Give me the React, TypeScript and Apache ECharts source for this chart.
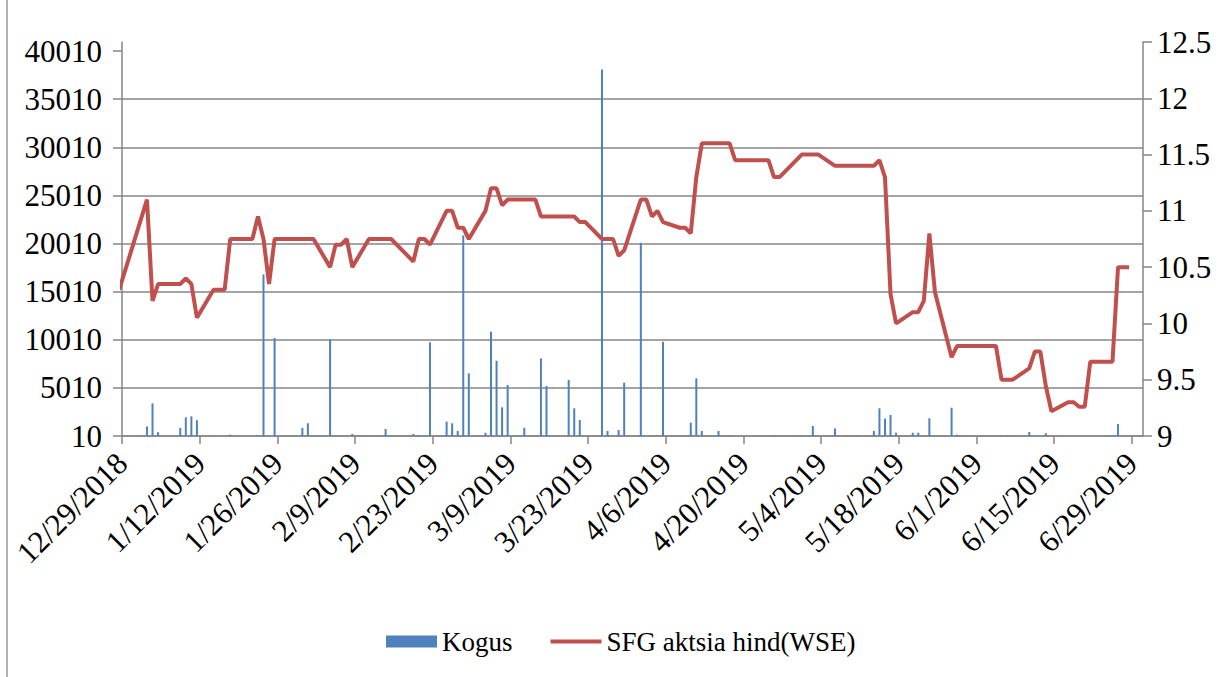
import React, { useEffect, useRef } from "react";
import * as echarts from "echarts";

const START = Date.UTC(2018, 11, 29);
const AXIS_DAYS = 184;

const priceDates = [
  "2018-12-28", "2019-01-02", "2019-01-03", "2019-01-04", "2019-01-07", "2019-01-08", "2019-01-09", "2019-01-10", "2019-01-11",
  "2019-01-14", "2019-01-15", "2019-01-16", "2019-01-17", "2019-01-18", "2019-01-21", "2019-01-22", "2019-01-23", "2019-01-24",
  "2019-01-25", "2019-01-28", "2019-01-29", "2019-01-30", "2019-01-31", "2019-02-01", "2019-02-04", "2019-02-05", "2019-02-06",
  "2019-02-07", "2019-02-08", "2019-02-11", "2019-02-12", "2019-02-13", "2019-02-14", "2019-02-15", "2019-02-18", "2019-02-19",
  "2019-02-20", "2019-02-21", "2019-02-22", "2019-02-25", "2019-02-26", "2019-02-27", "2019-02-28", "2019-03-01", "2019-03-04",
  "2019-03-05", "2019-03-06", "2019-03-07", "2019-03-08", "2019-03-11", "2019-03-12", "2019-03-13", "2019-03-14", "2019-03-15",
  "2019-03-18", "2019-03-19", "2019-03-20", "2019-03-21", "2019-03-22", "2019-03-25", "2019-03-26", "2019-03-27", "2019-03-28",
  "2019-03-29", "2019-04-01", "2019-04-02", "2019-04-03", "2019-04-04", "2019-04-05", "2019-04-08", "2019-04-09", "2019-04-10",
  "2019-04-11", "2019-04-12", "2019-04-15", "2019-04-16", "2019-04-17", "2019-04-18", "2019-04-23", "2019-04-24", "2019-04-25",
  "2019-04-26", "2019-04-30", "2019-05-02", "2019-05-03", "2019-05-06", "2019-05-07", "2019-05-08", "2019-05-09", "2019-05-10",
  "2019-05-13", "2019-05-14", "2019-05-15", "2019-05-16", "2019-05-17", "2019-05-20", "2019-05-21", "2019-05-22", "2019-05-23",
  "2019-05-24", "2019-05-27", "2019-05-28", "2019-05-29", "2019-05-30", "2019-05-31", "2019-06-03", "2019-06-04", "2019-06-05",
  "2019-06-06", "2019-06-07", "2019-06-10", "2019-06-11", "2019-06-12", "2019-06-13", "2019-06-14", "2019-06-17", "2019-06-18",
  "2019-06-19", "2019-06-20", "2019-06-21", "2019-06-24", "2019-06-25", "2019-06-26", "2019-06-27", "2019-06-28",
];
const priceValues = [
  10.3, 11.1, 10.2, 10.35, 10.35, 10.35, 10.4, 10.35, 10.05,
  10.3, 10.3, 10.3, 10.75, 10.75, 10.75, 10.95, 10.75, 10.35,
  10.75, 10.75, 10.75, 10.75, 10.75, 10.75, 10.5, 10.7, 10.7,
  10.75, 10.5, 10.75, 10.75, 10.75, 10.75, 10.75, 10.6, 10.55,
  10.75, 10.75, 10.7, 11.0, 11.0, 10.85, 10.85, 10.75, 11.0,
  11.2, 11.2, 11.05, 11.1, 11.1, 11.1, 11.1, 10.95, 10.95,
  10.95, 10.95, 10.95, 10.9, 10.9, 10.75, 10.75, 10.75, 10.6,
  10.65, 11.1, 11.1, 10.95, 11.0, 10.9, 10.85, 10.85, 10.8,
  11.3, 11.6, 11.6, 11.6, 11.6, 11.45, 11.45, 11.45, 11.3,
  11.3, 11.5, 11.5, 11.5, 11.4, 11.4, 11.4, 11.4, 11.4,
  11.4, 11.45, 11.3, 10.26, 10.0, 10.1, 10.1, 10.2, 10.8,
  10.28, 9.7, 9.8, 9.8, 9.8, 9.8, 9.8, 9.8, 9.5,
  9.5, 9.5, 9.6, 9.75, 9.75, 9.44, 9.22, 9.3, 9.3,
  9.26, 9.26, 9.66, 9.66, 9.66, 10.5, 10.5, 10.5,
];

const volumeDates = [
  "2019-01-02", "2019-01-03", "2019-01-04", "2019-01-08", "2019-01-09", "2019-01-10", "2019-01-11", "2019-01-17", "2019-01-22",
  "2019-01-23", "2019-01-25", "2019-01-30", "2019-01-31", "2019-02-04", "2019-02-08", "2019-02-14", "2019-02-19", "2019-02-20",
  "2019-02-22", "2019-02-25", "2019-02-26", "2019-02-27", "2019-02-28", "2019-03-01", "2019-03-04", "2019-03-05", "2019-03-06",
  "2019-03-07", "2019-03-08", "2019-03-11", "2019-03-14", "2019-03-15", "2019-03-19", "2019-03-20", "2019-03-21", "2019-03-25",
  "2019-03-26", "2019-03-28", "2019-03-29", "2019-04-01", "2019-04-03", "2019-04-04", "2019-04-05", "2019-04-10", "2019-04-11",
  "2019-04-12", "2019-04-15", "2019-04-17", "2019-04-25", "2019-04-30", "2019-05-02", "2019-05-06", "2019-05-08", "2019-05-10",
  "2019-05-13", "2019-05-14", "2019-05-15", "2019-05-16", "2019-05-17", "2019-05-20", "2019-05-21", "2019-05-23", "2019-05-27",
  "2019-05-28", "2019-06-05", "2019-06-06", "2019-06-07", "2019-06-10", "2019-06-13", "2019-06-24", "2019-06-25", "2019-06-26",
];
const volumeValues = [
  1000, 3400, 400, 850, 1950, 2050, 1650, 150, 100,
  16800, 10200, 850, 1330, 10060, 220, 740, 220, 100,
  9750, 1500, 1330, 530, 20850, 6520, 350, 10850, 7830,
  2990, 5310, 870, 8070, 5200, 5830, 2890, 1670, 38100,
  530, 630, 5550, 20090, 50, 30, 9800, 1390, 6000,
  530, 530, 60, 100, 80, 1050, 800, 60, 60,
  530, 2890, 1810, 2190, 350, 350, 350, 1850, 2950,
  150, 50, 60, 50, 430, 290, 60, 80, 1260,
];

const leftTicks = [10, 5010, 10010, 15010, 20010, 25010, 30010, 35010, 40010];

function dayIndex(s: string): number {
  const [y, m, d] = s.split("-").map(Number);
  return Math.round((Date.UTC(y, m - 1, d) - START) / 86400000);
}
function dayLabel(v: number): string {
  const dt = new Date(START + v * 86400000);
  return `${dt.getUTCMonth() + 1}/${dt.getUTCDate()}/${dt.getUTCFullYear()}`;
}

const FONT = "Liberation Serif";
const GRID = "#868686";
const AXIS_FS = 31;

export default function App() {
  const ref = useRef<HTMLDivElement>(null);
  useEffect(() => {
    if (!ref.current) return;
    const chart = echarts.init(ref.current, undefined, { renderer: "svg" });
    const barData = volumeDates.map((d, i) => [dayIndex(d) + 0.5, volumeValues[i]]);
    const lineData = priceDates.map((d, i) => [dayIndex(d) + 0.5, priceValues[i]]);
    chart.setOption({
      animation: false,
      backgroundColor: "#ffffff",
      textStyle: { fontFamily: FONT },
      grid: { left: 122, right: 82, top: 42, bottom: 241 },
      legend: {
        left: 381,
        top: 623,
        itemWidth: 51,
        itemHeight: 12,
        itemGap: 36,
        textStyle: { fontFamily: FONT, fontSize: 27, color: "#000" },
        data: [
          { name: "Kogus", icon: "rect" },
          { name: "SFG aktsia hind(WSE)", itemStyle: { opacity: 0 }, lineStyle: { width: 4 } },
        ],
      },
      xAxis: {
        type: "value",
        min: 0,
        max: AXIS_DAYS,
        interval: 14,
        axisLine: { show: true, lineStyle: { color: GRID, width: 1.5 } },
        axisTick: { show: true, length: 8, lineStyle: { color: GRID, width: 1.5 } },
        splitLine: { show: false },
        axisLabel: {
          rotate: 45,
          margin: 22,
          fontSize: AXIS_FS,
          fontFamily: FONT,
          color: "#000",
          showMaxLabel: false,
          formatter: (v: number) => dayLabel(v),
        },
      },
      yAxis: [
        {
          type: "value",
          min: 10,
          max: 40950,
          interval: 5000,
          position: "left",
          axisLine: { show: true, lineStyle: { color: GRID, width: 1.5 } },
          axisTick: { show: true, length: 9, customValues: leftTicks, lineStyle: { color: GRID, width: 1.5 } },
          splitLine: { show: true, showMaxLine: false, lineStyle: { color: GRID, width: 1.5 } },
          axisLabel: {
            margin: 20,
            fontSize: AXIS_FS,
            fontFamily: FONT,
            color: "#000",
            customValues: leftTicks,
            formatter: (v: number) => String(v),
          },
        },
        {
          type: "value",
          min: 9,
          max: 12.5,
          interval: 0.5,
          position: "right",
          axisLine: { show: true, lineStyle: { color: GRID, width: 1.5 } },
          axisTick: { show: true, length: 9, lineStyle: { color: GRID, width: 1.5 } },
          splitLine: { show: false },
          axisLabel: { margin: 14, fontSize: AXIS_FS, fontFamily: FONT, color: "#000", formatter: (v: number) => String(v) },
        },
      ],
      series: [
        {
          name: "Kogus",
          type: "bar",
          yAxisIndex: 0,
          barWidth: 2,
          itemStyle: { color: "#4F81BD" },
          data: barData,
        },
        {
          name: "SFG aktsia hind(WSE)",
          type: "line",
          yAxisIndex: 1,
          symbol: "none",
          clip: true,
          lineStyle: { color: "#C0504D", width: 4 },
          itemStyle: { color: "#C0504D" },
          data: lineData,
        },
      ],
      graphic: [
        {
          type: "line",
          shape: { x1: 7, y1: 0, x2: 7, y2: 677 },
          style: { stroke: "#9a9a9a", lineWidth: 1.5 },
        },
      ],
    });
    return () => chart.dispose();
  }, []);
  return (
    <div
      ref={ref}
      style={{ position: "fixed", left: 0, top: 0, width: 1225, height: 677 }}
    />
  );
}
